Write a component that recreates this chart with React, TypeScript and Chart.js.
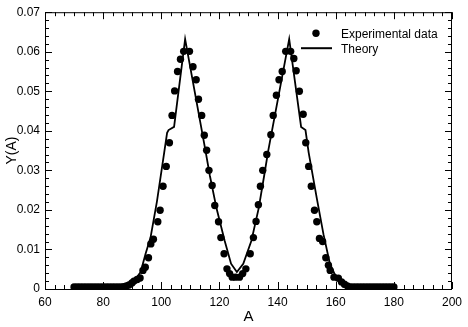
import React, { useEffect, useRef } from "react";
import { Chart, registerables } from "chart.js";

Chart.register(...registerables);

// Experimental data (A, Y)
const expA = [
  70, 71, 72, 73, 74, 75, 76, 77, 78, 79, 80, 81, 82, 83, 84, 85, 86, 87, 88,
  88.9, 89.9, 90.6, 91.7, 92.7, 93.7, 94.5, 95.6, 96.4, 97.3, 98.8, 99.6, 100.6, 101.7, 102.8,
  103.7, 104.6, 105.6, 106.6, 107.7, 109.7, 110.9, 112.0, 112.8, 113.9, 114.8, 115.6,
  116.4, 117.5, 118.4, 119.7, 120.5, 121.6, 122.6, 123.5, 124.4, 125.5, 126.9, 128, 129.1,
  130.6, 131.7, 132.6, 133.4, 134.1, 134.9, 136.3, 137.7, 138.5, 139.6, 140.5, 141.6, 142.8,
  144.5, 145.6, 146.4, 147.5, 148.8, 149.7, 150.7, 151.6, 152.7, 153.5, 154.4, 155.5, 156.6,
  157.5, 158.1, 159.4, 160.9, 162, 163, 164, 165, 166, 167, 168, 169, 170, 171, 172, 173, 174,
  175, 176, 177, 178, 179, 180,
];
const expY = [
  0.0005, 0.0005, 0.0005, 0.0005, 0.0005, 0.0005, 0.0005, 0.0005, 0.0005, 0.0005, 0.0005, 0.0005, 0.0005, 0.0005, 0.0005, 0.0005, 0.0005, 0.0006, 0.0008,
  0.001, 0.0015, 0.002, 0.0024, 0.0028, 0.0047, 0.0055, 0.0079, 0.0114, 0.0126, 0.017, 0.0199, 0.026, 0.031, 0.037,
  0.0439, 0.0501, 0.055, 0.0581, 0.0601, 0.0601, 0.0562, 0.0529, 0.048, 0.0439, 0.0389, 0.0351,
  0.03, 0.0262, 0.0211, 0.017, 0.013, 0.0089, 0.0051, 0.0039, 0.003, 0.003, 0.003, 0.0039, 0.0051,
  0.0089, 0.013, 0.0171, 0.0213, 0.026, 0.03, 0.034, 0.039, 0.0439, 0.049, 0.0529, 0.055, 0.0601,
  0.0601, 0.0583, 0.0552, 0.05, 0.0442, 0.037, 0.031, 0.026, 0.0199, 0.017, 0.0128, 0.012, 0.0079,
  0.006, 0.0047, 0.003, 0.0027, 0.0018, 0.0012, 0.0008, 0.0005, 0.0005, 0.0005, 0.0005, 0.0005, 0.0005, 0.0005, 0.0005, 0.0005, 0.0005,
  0.0005, 0.0005, 0.0005, 0.0005, 0.0005, 0.0005,
];

// Theory curve (A, Y)
const theoryA = [
  70, 86, 88, 90, 92.9, 94.6, 96.3, 98.5, 101, 102, 102.5, 104.4, 108.2,
  115.2, 116.7, 119, 121.8, 124, 126, 128.2, 131, 133.5, 135.4, 136.8, 144,
  148.1, 149.6, 150.7, 153.5, 155.8, 158, 160.3, 162.6, 165, 180,
];
const theoryY = [
  0.0003, 0.0003, 0.0005, 0.0014, 0.0043, 0.0089, 0.013, 0.0221, 0.0345, 0.0395, 0.0402, 0.041, 0.0632,
  0.035, 0.0287, 0.0204, 0.0122, 0.0064, 0.0043, 0.0064, 0.0122, 0.0204, 0.0287, 0.035, 0.0632,
  0.041, 0.0402, 0.0345, 0.0229, 0.0138, 0.0064, 0.0027, 0.0006, 0.0003, 0.0003,
];

const xTicks = [60, 80, 100, 120, 140, 160, 180, 200];
const yTicks = [0, 0.01, 0.02, 0.03, 0.04, 0.05, 0.06, 0.07];
const legendLabels = ["Experimental data", "Theory"];

const FONT = "Arial, 'Liberation Sans', Helvetica, sans-serif";

const framePlugin = {
  id: "frameTicks",
  afterDraw(chart: any) {
    const { ctx, chartArea: a, scales } = chart;
    const xs = scales.x;
    const ys = scales.y;
    ctx.save();
    ctx.strokeStyle = "#000";
    ctx.lineWidth = 1;
    ctx.strokeRect(a.left + 0.5, a.top + 0.5, a.right - a.left - 1, a.bottom - a.top);
    ctx.beginPath();
    // x ticks (major every 20, 6 minor intervals)
    for (let i = 0; i < xTicks.length; i++) {
      const v = xTicks[i];
      for (let k = 0; k < 6; k++) {
        const val = v + (k * 20) / 6;
        if (val > 200.001) break;
        const px = Math.round(xs.getPixelForValue(val)) + 0.5;
        const len = k === 0 ? 7 : 4;
        ctx.moveTo(px, a.bottom);
        ctx.lineTo(px, a.bottom - len);
        ctx.moveTo(px, a.top);
        ctx.lineTo(px, a.top + len);
      }
    }
    // y ticks (major every 0.01, 5 minor intervals)
    for (let i = 0; i < yTicks.length; i++) {
      const v = yTicks[i];
      for (let k = 0; k < 5; k++) {
        const val = v + k * 0.002;
        if (val > 0.07001) break;
        const py = Math.round(ys.getPixelForValue(val)) + 0.5;
        const len = k === 0 ? 7 : 4;
        ctx.moveTo(a.left, py);
        ctx.lineTo(a.left + len, py);
        ctx.moveTo(a.right, py);
        ctx.lineTo(a.right - len, py);
      }
    }
    ctx.stroke();

    // legend
    const lx = a.right - 151;
    const ly = a.top + 21;
    ctx.fillStyle = "#000";
    ctx.beginPath();
    ctx.arc(lx + 15, ly, 3.7, 0, Math.PI * 2);
    ctx.fill();
    ctx.lineWidth = 2;
    ctx.beginPath();
    ctx.moveTo(lx, ly + 15);
    ctx.lineTo(lx + 31, ly + 15);
    ctx.stroke();
    ctx.font = `12px ${FONT}`;
    ctx.textBaseline = "middle";
    ctx.textAlign = "left";
    ctx.fillText(legendLabels[0], lx + 40, ly + 1);
    ctx.fillText(legendLabels[1], lx + 40, ly + 16);
    ctx.restore();
  },
};

export default function App() {
  const ref = useRef<HTMLCanvasElement | null>(null);
  useEffect(() => {
    document.body.style.margin = "0";
    const canvas = ref.current!;
    const chart = new Chart(canvas, {
      type: "scatter",
      data: {
        datasets: [
          {
            label: legendLabels[0],
            data: expA.map((a, i) => ({ x: a, y: expY[i] })),
            backgroundColor: "#000",
            borderColor: "#000",
            pointRadius: 3.7,
            pointBorderWidth: 0,
            showLine: false,
          },
          {
            label: legendLabels[1],
            data: theoryA.map((a, i) => ({ x: a, y: theoryY[i] })),
            borderColor: "#000",
            backgroundColor: "#000",
            borderWidth: 1.8,
            pointRadius: 0,
            showLine: true,
            tension: 0,
          } as any,
        ],
      },
      options: {
        responsive: false,
        animation: false,
        layout: { padding: { left: 0, right: 12, top: 6, bottom: 0 } },
        plugins: {
          legend: { display: false },
          tooltip: { enabled: false },
        },
        scales: {
          x: {
            type: "linear",
            min: 60,
            max: 200,
            afterBuildTicks: (s: any) => {
              s.ticks = xTicks.map((v) => ({ value: v }));
            },
            afterFit: (s: any) => {
              s.height = 38;
            },
            grid: { display: false, drawTicks: false },
            border: { display: false },
            ticks: {
              color: "#000",
              font: { family: FONT, size: 12 },
              padding: 6,
              maxRotation: 0,
              callback: (v: any) => String(v),
            },
            title: {
              display: true,
              text: "A",
              color: "#000",
              font: { family: FONT, size: 15 },
              padding: { top: 0, bottom: 1 },
            },
          },
          y: {
            type: "linear",
            min: 0,
            max: 0.07,
            afterBuildTicks: (s: any) => {
              s.ticks = yTicks.map((v) => ({ value: v }));
            },
            afterFit: (s: any) => {
              s.width = 45;
            },
            grid: { display: false, drawTicks: false },
            border: { display: false },
            ticks: {
              color: "#000",
              font: { family: FONT, size: 12 },
              padding: 5,
              callback: (v: any) => (v === 0 ? "0" : Number(v).toFixed(2)),
            },
            title: {
              display: true,
              text: "Y(A)",
              color: "#000",
              font: { family: FONT, size: 14 },
              padding: { top: 4, bottom: 0 },
            },
          },
        },
      },
      plugins: [framePlugin],
    });
    return () => chart.destroy();
  }, []);
  return (
    <div style={{ width: 468, height: 327 }}>
      <canvas ref={ref} width={468} height={327} />
    </div>
  );
}
